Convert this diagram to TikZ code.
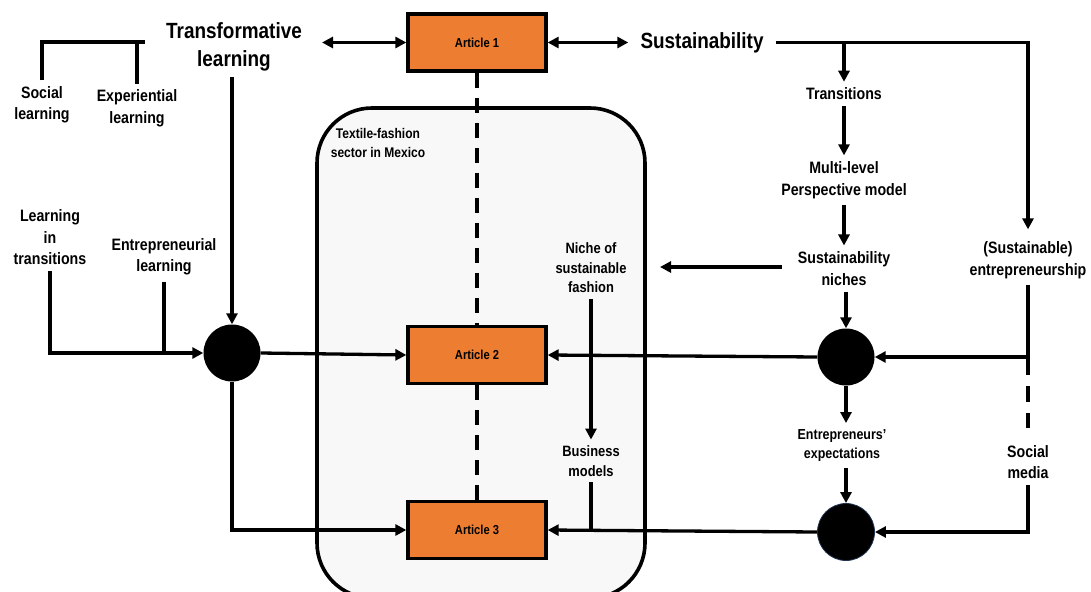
\documentclass[tikz,border=0pt]{standalone}
\usepackage{fontspec}
\setmainfont[FakeStretch=0.86]{Liberation Sans}
\usetikzlibrary{arrows.meta,calc}
\definecolor{artc}{HTML}{ED7D31}
\definecolor{sect}{HTML}{F8F8F8}
\definecolor{rim}{HTML}{1F3350}
\begin{document}
\begin{tikzpicture}[x=1pt,y=-1pt,
  ln/.style={line width=3.3pt},
  arr/.style={ln,-{Triangle[length=11pt,width=11pt]}},
  dbl/.style={ln,{Triangle[length=11pt,width=11pt]}-{Triangle[length=11pt,width=11pt]}},
  dsh/.style={ln,dash pattern=on 15pt off 10pt},
  artbox/.style={draw,line width=3.3pt,fill=artc,minimum width=138pt,minimum height=57pt,inner sep=0pt,font=\bfseries\fontsize{13}{15}\selectfont},
  lbl/.style={align=center,inner sep=6pt,font=\bfseries\fontsize{16.5}{21.5}\selectfont},
  smlbl/.style={align=center,inner sep=6pt,font=\bfseries\fontsize{14.5}{19.5}\selectfont},
  big/.style={align=center,inner sep=6pt,font=\bfseries\fontsize{22}{28}\selectfont},
  dot/.style={circle,fill=black,minimum size=57pt,inner sep=0pt}]
\clip (0,0) rectangle (1091,591);
\fill[white] (0,0) rectangle (1091,591);
% sector
\draw[ln,line width=3.6pt,fill=sect,rounded corners=55pt] (317,108) rectangle (645,598);
\node[smlbl,font=\bfseries\fontsize{14}{19}\selectfont] (tf) at (378,143) {Textile-fashion\\sector in Mexico};
% articles
\node[artbox] (a1) at (477,42.5) {Article 1};
\node[artbox] (a2) at (477,355) {Article 2};
\node[artbox] (a3) at (477,530) {Article 3};
\draw[dsh] (a1.south) -- (a2.north);
\draw[dsh] (a2.south) -- (a3.north);
% top titles
\node[big] (tl) at (234,46.5) {Transformative\\learning};
\node[big] (sus) at (702,43) {Sustainability};
\draw[dbl,shorten <=14pt] (tl.east |- a1.west) -- (a1.west);
\draw[dbl,shorten >=6pt] (a1.east) -- (sus.west |- a1.east);
% left side
\node[lbl] (sl) at (42,105) {Social\\learning};
\node[lbl] (el) at (137,108.5) {Experiential\\learning};
\coordinate (brk) at (145,42);
\draw[ln] (sl.north) |- (brk);
\draw[ln] (el.north) -- (el.north |- brk);
\node[lbl] (lit) at (50,237.5) {Learning\\in\\transitions};
\node[lbl] (entl) at (164,257) {Entrepreneurial\\learning};
\node[dot] (c1) at (232,353) {};
\draw[arr] (lit.south) |- (c1.west);
\draw[ln] (entl.south) -- (entl.south |- c1.west);
\draw[arr] (c1.north |- tl.south) -- (c1.north);
\draw[arr] (c1.east) -- (a2.west);
\draw[arr] (c1.south) |- (a3.west);
% right side
\node[lbl] (tr) at (844,94) {Transitions};
\node[lbl] (mlp) at (844,180) {Multi-level\\Perspective model};
\node[lbl] (sn) at (844,268.5) {Sustainability\\niches};
\node[dot] (c2) at (846,357) {};
\node[smlbl] (ee) at (842,445.5) {Entrepreneurs’\\expectations};
\node[dot,draw=rim,line width=0.8pt] (c3) at (846,532) {};
\node[lbl] (se) at (1028,260) {(Sustainable)\\entrepreneurship};
\node[lbl] (sm) at (1028,462) {Social\\media};
\node[smlbl,font=\bfseries\fontsize{15}{19.5}\selectfont] (niche) at (591,268) {Niche of\\sustainable\\fashion};
\node[smlbl,font=\bfseries\fontsize{15}{19.5}\selectfont] (bm) at (591,461) {Business\\models};
\coordinate (corner) at (1028,42);
\draw[arr,shorten <=6pt,shorten >=6pt] (sus.east |- a1.east) -| (se.north);
\draw[arr] (tr.north |- corner) -- (tr.north);
\draw[arr] (tr.south) -- (mlp.north);
\draw[arr] (mlp.south) -- (sn.north);
\draw[arr] (c2.north |- sn.south) -- (c2.north);
\draw[arr] (c2.south) -- (c2.south |- ee.north);
\draw[arr] (c3.north |- ee.south) -- (c3.north);
\coordinate (nicheArr) at (660,267);
\draw[arr,shorten <=10pt] (sn.west |- nicheArr) -- (nicheArr);
\coordinate (j1) at (1028,357);
\coordinate (j2) at (1028,375);
\coordinate (j3) at (1028,428);
\draw[ln] (se.south) -- (j2);
\draw[ln,dash pattern=on 0pt off 11pt on 16pt off 11pt on 20pt] (j2) -- (j3);
\draw[arr] (j1) -- (c2.east);
\draw[arr] (sm.south) |- (c3.east);
\draw[arr] (c2.west) -- (a2.east);
\draw[arr] (c3.west) -- (a3.east);
\draw[arr] (niche.south) -- (bm.north);
\draw[ln] (bm.south) -- (bm.south |- a3.east);
\end{tikzpicture}
\end{document}
